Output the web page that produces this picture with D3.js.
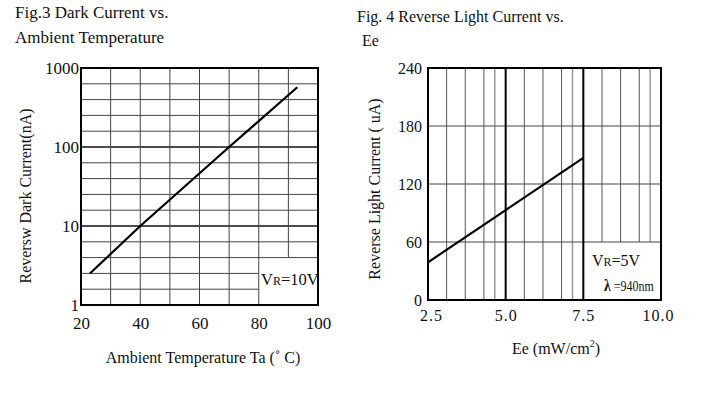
<!DOCTYPE html>
<html>
<head>
<meta charset="utf-8">
<script src="https://cdn.jsdelivr.net/npm/d3@7.9.0/dist/d3.min.js"></script>
<style>
  body { margin: 0; background: #fff; }
  svg, svg text { font-family: 'Liberation Serif', 'Times New Roman', serif; }
</style>
</head>
<body>
<div id="chart"></div>
<script>
// Fig.3 data: dark current vs ambient temperature
const tempC = [23, 40, 70, 93];
const darkCurrent = [2.5, 10, 100, 570];
const tempTicks = [20, 40, 60, 80, 100];
const tempGrid = [30, 40, 50, 60, 70, 80, 90];
const currentTicks = [1, 10, 100, 1000];
const decadeSteps = [0.2, 0.4, 0.6, 0.8]; // sub-lines inside each decade

// Fig.4 data: reverse light current vs Ee
const ee = [2.5, 5.0, 7.5];
const lightCurrent = [39, 93, 147];
const eeTicks = [2.5, 5.0, 7.5, 10.0];
const eeMajor = [5.0, 7.5];
const eeMinorOffsets = [0.6, 1.2, 1.8, 2.15];
const lightTicks = [0, 60, 120, 180, 240];

const width = 704, height = 399;
const serif = "'Liberation Serif', 'Times New Roman', serif";

const svg = d3.select("#chart")
  .append("svg")
  .attr("width", width)
  .attr("height", height);

// ---------- left chart ----------
const L = { left: 81, right: 318, top: 68, bottom: 305 };

const xT = d3.scaleLinear().domain([20, 100]).range([L.left, L.right]);
const yT = d3.scaleLog().domain([1, 1000]).range([L.bottom, L.top]);

const gL = svg.append("g");

// horizontal sub-lines in each decade
const subValues = [];
[1, 10, 100].forEach(base => decadeSteps.forEach(s => subValues.push(base * Math.pow(10, s))));
const boxTop = Math.pow(10, 0.6);

gL.selectAll(".hsub")
  .data(subValues)
  .join("line")
  .attr("x1", L.left)
  .attr("x2", d => d < boxTop - 0.01 ? xT(80) : L.right)
  .attr("y1", d => yT(d)).attr("y2", d => yT(d))
  .attr("stroke", "#444").attr("stroke-width", 1);

// decade lines
gL.selectAll(".hdec")
  .data([10, 100])
  .join("line")
  .attr("x1", L.left).attr("x2", L.right)
  .attr("y1", d => yT(d)).attr("y2", d => yT(d))
  .attr("stroke", "#111").attr("stroke-width", 1.6);

// vertical grid
gL.selectAll(".vgrid")
  .data(tempGrid)
  .join("line")
  .attr("x1", d => xT(d)).attr("x2", d => xT(d))
  .attr("y1", L.top)
  .attr("y2", d => d === 90 ? yT(boxTop) : L.bottom)
  .attr("stroke", "#444").attr("stroke-width", 1);

// frame
gL.append("rect")
  .attr("x", L.left).attr("y", L.top)
  .attr("width", L.right - L.left).attr("height", L.bottom - L.top)
  .attr("fill", "none").attr("stroke", "#000").attr("stroke-width", 2);

// curve
gL.append("path")
  .datum(d3.zip(tempC, darkCurrent))
  .attr("fill", "none")
  .attr("stroke", "#000")
  .attr("stroke-width", 2.2)
  .attr("d", d3.line().x(d => xT(d[0])).y(d => yT(d[1])));

// axes
const axL = svg.append("g")
  .attr("transform", `translate(${L.left - 2},0)`)
  .call(d3.axisLeft(yT).tickValues(currentTicks).tickFormat(d3.format("d")).tickSize(0).tickPadding(0));
const axB = svg.append("g")
  .attr("transform", `translate(0,${L.bottom + 10})`)
  .call(d3.axisBottom(xT).tickValues(tempTicks).tickSize(0).tickPadding(0));

[axL, axB].forEach(a => {
  a.attr("font-family", null).attr("font-size", null);
  a.select(".domain").remove();
  a.selectAll("text")
    .style("font-family", serif)
    .style("font-size", "17px").attr("fill", "#111");
});
axL.selectAll("text").attr("dy", "0.3em");
axB.selectAll("text").attr("dy", "0.8em");

svg.append("text")
  .attr("x", 203).attr("y", 363)
  .attr("text-anchor", "middle").attr("font-size", 16).attr("fill", "#111")
  .text("Ambient Temperature Ta (˚ C)");

svg.append("text")
  .attr("transform", "translate(31,196) rotate(-90)")
  .attr("text-anchor", "middle").attr("font-size", 16).attr("fill", "#111")
  .text("Reversw Dark Current(nA)");

const vr1 = svg.append("text")
  .attr("x", 261).attr("y", 285)
  .attr("font-size", 16.5).attr("fill", "#111");
vr1.append("tspan").text("V");
vr1.append("tspan").attr("font-size", 12).text("R");
vr1.append("tspan").text("=10V");

svg.append("text").attr("x", 15).attr("y", 18)
  .attr("font-size", 17).attr("fill", "#111").text("Fig.3 Dark Current vs.");
svg.append("text").attr("x", 15).attr("y", 43)
  .attr("font-size", 17).attr("fill", "#111").text("Ambient Temperature");

// ---------- right chart ----------
const R = { left: 428, right: 661, top: 68, bottom: 300 };

const xE = d3.scaleLinear().domain([2.5, 10]).range([R.left, R.right]);
const yE = d3.scaleLinear().domain([0, 240]).range([R.bottom, R.top]);

const gR = svg.append("g");

const minorE = [];
[2.5, 5.0, 7.5].forEach(b => eeMinorOffsets.forEach(o => minorE.push(b + o)));

gR.selectAll(".vminor")
  .data(minorE)
  .join("line")
  .attr("x1", d => xE(d)).attr("x2", d => xE(d))
  .attr("y1", R.top)
  .attr("y2", d => d > 7.5 ? yE(60) : R.bottom)
  .attr("stroke", (d, i) => i % 4 === 3 ? "#999" : "#555")
  .attr("stroke-width", (d, i) => i % 4 === 3 ? 1.5 : 1);

gR.selectAll(".hgrid")
  .data(lightTicks.slice(1, -1))
  .join("line")
  .attr("x1", R.left).attr("x2", R.right)
  .attr("y1", d => yE(d)).attr("y2", d => yE(d))
  .attr("stroke", "#444").attr("stroke-width", 1);

gR.selectAll(".vmajor")
  .data(eeMajor)
  .join("line")
  .attr("x1", d => xE(d)).attr("x2", d => xE(d))
  .attr("y1", R.top).attr("y2", R.bottom)
  .attr("stroke", "#000").attr("stroke-width", 2);

gR.append("rect")
  .attr("x", R.left).attr("y", R.top)
  .attr("width", R.right - R.left).attr("height", R.bottom - R.top)
  .attr("fill", "none").attr("stroke", "#000").attr("stroke-width", 2);

gR.append("path")
  .datum(d3.zip(ee, lightCurrent))
  .attr("fill", "none")
  .attr("stroke", "#000")
  .attr("stroke-width", 2.2)
  .attr("d", d3.line().x(d => xE(d[0])).y(d => yE(d[1])));

const axRL = svg.append("g")
  .attr("transform", `translate(${R.left - 6},0)`)
  .call(d3.axisLeft(yE).tickValues(lightTicks).tickSize(0).tickPadding(0));
const axRB = svg.append("g")
  .attr("transform", `translate(0,${R.bottom + 8})`)
  .call(d3.axisBottom(xE).tickValues(eeTicks).tickFormat(d3.format(".1f")).tickSize(0).tickPadding(0));

[axRL, axRB].forEach(a => {
  a.attr("font-family", null).attr("font-size", null);
  a.select(".domain").remove();
  a.selectAll("text")
    .style("font-family", serif)
    .style("font-size", "16px").attr("fill", "#111");
});
axRL.selectAll("text").attr("dy", "0.35em");
axRB.selectAll("text").attr("dy", "0.8em").attr("letter-spacing", 1);
axRB.selectAll("text").filter(d => d === 2.5).attr("dx", 3);
axRB.selectAll("text").filter(d => d === 10).attr("dx", -3);

const eeLabel = svg.append("text")
  .attr("x", 556).attr("y", 354)
  .attr("text-anchor", "middle").attr("font-size", 16).attr("fill", "#111");
eeLabel.append("tspan").text("Ee (mW/cm");
eeLabel.append("tspan").attr("font-size", 10).attr("dy", -7).text("2");
eeLabel.append("tspan").attr("dy", 7).text(")");

svg.append("text")
  .attr("transform", "translate(380,189) rotate(-90)")
  .attr("text-anchor", "middle").attr("font-size", 16).attr("fill", "#111")
  .text("Reverse Light Current ( uA)");

const vr2 = svg.append("text")
  .attr("x", 592).attr("y", 266)
  .attr("font-size", 16).attr("fill", "#111");
vr2.append("tspan").text("V");
vr2.append("tspan").attr("font-size", 12).text("R");
vr2.append("tspan").text("=5V");

const lam = svg.append("text")
  .attr("x", 604).attr("y", 291)
  .attr("font-size", 14).attr("fill", "#111")
  .attr("textLength", 50).attr("lengthAdjust", "spacingAndGlyphs");
lam.append("tspan").attr("font-weight", "bold").attr("font-size", 16).text("λ");
lam.append("tspan").text(" =940nm");

svg.append("text").attr("x", 357).attr("y", 22)
  .attr("font-size", 16).attr("fill", "#111").text("Fig. 4 Reverse Light Current vs.");
svg.append("text").attr("x", 362).attr("y", 46)
  .attr("font-size", 16).attr("fill", "#111").text("Ee");
</script>
</body>
</html>
